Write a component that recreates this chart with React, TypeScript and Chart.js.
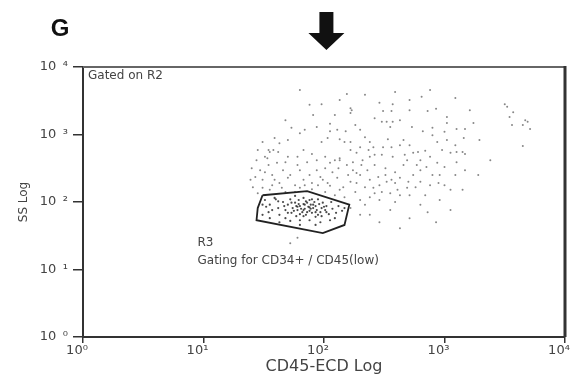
import React, { useEffect, useRef } from "react";
import { Chart, registerables } from "chart.js";

Chart.register(...registerables);

// Axis decades (values are log10 of the channel, the axis shows 10^n)
const decades = [0, 1, 2, 3, 4];
const xTickLabels = ["10⁰", "10¹", "10²", "10³", "10⁴"];
const yTickLabels = ["10\u2002⁰", "10\u2002¹", "10\u2002²", "10\u2002³", "10\u2002⁴"];

const xTitle = "CD45-ECD Log";
const yTitle = "SS Log";

// R3 gate polygon (log10 CD45, log10 SS)
const gateR3: [number, number][] = [
  [1.49, 2.1], [1.86, 2.16], [2.21, 1.96], [2.17, 1.66], [1.99, 1.54], [1.44, 1.73], [1.45, 1.91], [1.49, 2.1],
];

// events inside R3 (log10 CD45, log10 SS)
const gatedEvents: [number, number][] = [
  [1.51, 2.03], [1.55, 1.96], [1.54, 1.85], [1.59, 2.06], [1.62, 1.91], [1.63, 1.81], [1.66, 2.0], [1.68, 1.88],
  [1.7, 1.96], [1.72, 2.04], [1.73, 1.84], [1.74, 1.91], [1.76, 1.99], [1.77, 1.79], [1.78, 1.88], [1.79, 2.03],
  [1.8, 1.94], [1.82, 1.85], [1.83, 1.97], [1.83, 2.06], [1.84, 1.9], [1.85, 1.81], [1.86, 1.99], [1.87, 1.93],
  [1.88, 1.87], [1.88, 2.03], [1.89, 1.96], [1.9, 1.84], [1.91, 1.91], [1.92, 2.0], [1.93, 1.78], [1.93, 1.94],
  [1.94, 1.88], [1.95, 2.04], [1.96, 1.97], [1.97, 1.85], [1.98, 1.91], [1.98, 1.79], [1.99, 1.99], [2.01, 1.88],
  [2.02, 1.94], [2.04, 1.82], [2.06, 2.0], [2.07, 1.9], [2.1, 1.84], [2.12, 1.94], [2.15, 1.87], [2.17, 1.91],
  [1.8, 1.73], [1.72, 1.72], [1.63, 1.7], [1.55, 1.76], [1.49, 1.81], [1.6, 2.04], [1.76, 2.09], [1.68, 1.76],
  [1.88, 1.73], [1.97, 1.7], [2.05, 1.73], [1.78, 1.93], [1.81, 1.9], [1.84, 1.96], [1.88, 1.92], [1.83, 1.88],
  [1.86, 1.85], [1.89, 1.9], [1.79, 1.97], [1.91, 1.96], [1.75, 1.87], [1.7, 1.84], [1.93, 1.85], [1.85, 2.01],
  [1.8, 1.82], [1.77, 1.94], [1.73, 1.99], [1.9, 2.04], [1.95, 1.81], [2.0, 1.93], [2.02, 1.85], [1.67, 1.94],
  [1.62, 2.01], [1.57, 1.88], [1.52, 1.93], [1.83, 1.79], [1.93, 1.66], [1.8, 1.66], [2.09, 1.76], [1.49, 1.96],
];

// events outside R3 (log10 CD45, log10 SS)
const otherEvents: [number, number][] = [
  [1.8, 3.66], [2.19, 3.6], [1.88, 3.44], [1.98, 3.45], [2.22, 3.39], [2.22, 3.32], [2.05, 3.16], [1.84, 3.07],
  [2.05, 3.05], [2.18, 3.05], [2.13, 2.93], [1.98, 2.89], [2.17, 2.89], [2.03, 2.95], [1.55, 2.74], [1.62, 2.74],
  [1.83, 2.77], [1.9, 2.71], [2.13, 2.65], [1.7, 2.67], [1.78, 2.67], [1.63, 2.87], [1.7, 2.92], [1.8, 3.02],
  [1.94, 3.11], [2.11, 3.07], [2.3, 3.07], [1.58, 2.77], [1.51, 2.67],
  [2.88, 3.66], [2.81, 3.56], [2.46, 3.47], [2.57, 3.45], [2.49, 3.35], [2.56, 3.35], [2.86, 3.35], [2.93, 3.38],
  [2.23, 3.36], [2.42, 3.24], [2.48, 3.19], [2.57, 3.19], [2.52, 3.19], [3.02, 3.26], [3.02, 3.17], [2.73, 3.11],
  [2.55, 3.11], [2.82, 3.05], [2.9, 3.1], [3.0, 3.04], [3.1, 3.08], [3.17, 3.08], [2.9, 2.99], [2.53, 2.93],
  [2.66, 2.92], [2.94, 2.89], [2.22, 2.89], [2.38, 2.89], [2.41, 2.81], [2.49, 2.81], [2.56, 2.81], [2.63, 2.84],
  [2.3, 2.81], [2.78, 2.74], [2.84, 2.76], [2.98, 2.77], [3.1, 2.74], [3.17, 2.71], [2.42, 2.7], [2.48, 2.7],
  [2.74, 2.73], [2.88, 2.67],
  [3.5, 3.45], [3.52, 3.41], [3.57, 3.33], [3.54, 3.26], [3.56, 3.14], [3.65, 3.14], [3.67, 3.21], [3.69, 3.19],
  [3.71, 3.08], [3.24, 3.17], [3.16, 2.95], [3.65, 2.83], [3.15, 2.74],
  [1.44, 2.62], [1.53, 2.65], [1.61, 2.58], [1.78, 2.55], [1.86, 2.59], [1.94, 2.62], [2.01, 2.67], [2.05, 2.58],
  [2.13, 2.62], [2.19, 2.55], [2.24, 2.59], [1.43, 2.37], [1.49, 2.33], [1.57, 2.4], [1.63, 2.28], [1.7, 2.36],
  [1.76, 2.25], [1.83, 2.33], [1.9, 2.28], [1.97, 2.37], [2.03, 2.28], [2.11, 2.36], [2.16, 2.22], [2.22, 2.3],
  [1.41, 2.22], [1.47, 2.47], [1.66, 2.47], [1.94, 2.47], [2.07, 2.44], [2.27, 2.43],
  [2.27, 2.73], [2.32, 2.62], [2.38, 2.67], [2.57, 2.67], [2.69, 2.62], [2.77, 2.55], [2.85, 2.52], [2.94, 2.58],
  [3.05, 2.73], [3.1, 2.59], [3.17, 2.47], [2.24, 2.47], [2.3, 2.4], [2.36, 2.47], [2.45, 2.37], [2.52, 2.3],
  [2.56, 2.33], [2.63, 2.36], [2.7, 2.3], [2.74, 2.4], [2.8, 2.47], [2.9, 2.4], [2.95, 2.28], [2.27, 2.28],
  [2.34, 2.22], [2.41, 2.21], [2.48, 2.15], [2.55, 2.13], [2.61, 2.18], [2.69, 2.21], [2.76, 2.22], [2.38, 2.07],
  [2.3, 2.03], [2.22, 1.91], [2.84, 2.1], [2.86, 1.85], [2.71, 1.76], [3.0, 2.52],
  [1.49, 2.21], [1.55, 2.18], [1.65, 2.21], [1.76, 2.15], [1.9, 2.19], [2.01, 2.15], [2.09, 2.1], [2.17, 2.07],
  [2.13, 2.18], [2.05, 2.24], [2.34, 1.96], [2.46, 2.03], [2.59, 2.0], [2.63, 2.1], [1.54, 2.55], [1.68, 2.59],
  [1.8, 2.47], [1.88, 2.4], [2.01, 2.5], [2.12, 2.5], [2.2, 2.4], [2.31, 2.55], [2.42, 2.55], [2.51, 2.5],
  [2.59, 2.44], [2.66, 2.55], [2.46, 2.25], [2.59, 2.28], [2.38, 2.33], [1.72, 2.4], [1.84, 2.25], [1.59, 2.33],
  [1.95, 2.25], [2.51, 2.4], [2.26, 2.15], [2.42, 2.13], [2.8, 2.3], [3.0, 2.25], [3.09, 2.4], [2.8, 1.96],
  [2.96, 2.03], [3.02, 2.92], [3.09, 2.84], [2.71, 2.84], [2.34, 2.96], [2.26, 3.14], [2.63, 3.21], [2.71, 3.36],
  [1.78, 1.47], [1.72, 1.39],
  [1.45, 2.77], [1.49, 2.89], [1.59, 2.95], [1.73, 3.1], [1.68, 3.21], [1.91, 3.29], [2.09, 3.29], [2.13, 3.51],
  [2.34, 3.59], [2.59, 3.63], [2.71, 3.51], [3.09, 3.54], [3.21, 3.36], [3.29, 2.92], [3.38, 2.62], [3.28, 2.4],
  [3.15, 2.18], [3.05, 1.88], [2.93, 1.7], [2.63, 1.61], [2.46, 1.7], [2.3, 1.81], [1.51, 2.44], [1.57, 2.25],
  [1.68, 2.15], [1.8, 2.21], [1.99, 2.33], [2.09, 2.62], [2.22, 2.77], [2.37, 2.77], [2.67, 2.7], [2.8, 2.62],
  [2.96, 2.4], [3.05, 2.18], [2.88, 2.25], [2.71, 2.1], [2.55, 1.88], [2.38, 1.81], [1.54, 2.77], [1.4, 2.5],
  [1.39, 2.33], [1.45, 2.13],
];

// annotation positions in data units (log10 CD45, log10 SS)
const r3LabelPos = { x: 0.95, y: 1.4 };
const r3NotePos = { x: 0.95, y: 1.13 };
const arrowAt = 2.02;

const toPoints = (arr: [number, number][]) => arr.map(([x, y]) => ({ x, y }));

const TEXT_FONT = "'DejaVu Sans', 'Liberation Sans', Arial, sans-serif";

const decorPlugin = {
  id: "decor",
  afterDraw(chart: any) {
    const { ctx, chartArea, scales } = chart;
    const xs = scales.x;
    const ys = scales.y;
    ctx.save();
    // top and right frame
    ctx.strokeStyle = "#666";
    ctx.lineWidth = 2;
    ctx.beginPath();
    ctx.moveTo(chartArea.left, chartArea.top);
    ctx.lineTo(chartArea.right, chartArea.top);
    ctx.stroke();
    ctx.strokeStyle = "#333";
    ctx.lineWidth = 3;
    ctx.beginPath();
    ctx.moveTo(chartArea.right, chartArea.top - 1);
    ctx.lineTo(chartArea.right, chartArea.bottom);
    ctx.stroke();

    // annotations
    ctx.fillStyle = "#444";
    ctx.font = `12px ${TEXT_FONT}`;
    ctx.textBaseline = "middle";
    ctx.textAlign = "left";
    ctx.fillText("Gated on R2", xs.getPixelForValue(0) + 5, chartArea.top + 9);
    ctx.fillText("R3", xs.getPixelForValue(r3LabelPos.x), ys.getPixelForValue(r3LabelPos.y));
    ctx.fillText("Gating for CD34+ / CD45(low)", xs.getPixelForValue(r3NotePos.x), ys.getPixelForValue(r3NotePos.y));

    // panel letter
    ctx.fillStyle = "#111";
    ctx.font = `bold 24px 'Liberation Sans', Arial, sans-serif`;
    ctx.textAlign = "center";
    ctx.fillText("G", 60, 29);

    // arrow
    const cx = xs.getPixelForValue(arrowAt);
    ctx.fillStyle = "#111";
    ctx.beginPath();
    ctx.moveTo(cx - 7, 12);
    ctx.lineTo(cx + 7, 12);
    ctx.lineTo(cx + 7, 33);
    ctx.lineTo(cx + 18, 33);
    ctx.lineTo(cx, 50);
    ctx.lineTo(cx - 18, 33);
    ctx.lineTo(cx - 7, 33);
    ctx.closePath();
    ctx.fill();
    ctx.restore();
  },
};

export default function App() {
  const ref = useRef<HTMLCanvasElement | null>(null);
  useEffect(() => {
    if (!ref.current) return;
    const chart = new Chart(ref.current, {
      type: "scatter",
      data: {
        datasets: [
          {
            label: "R3",
            data: toPoints(gateR3),
            showLine: true,
            borderColor: "#222",
            borderWidth: 1.8,
            pointRadius: 0,
            fill: false,
            tension: 0,
          } as any,
          {
            label: "gated",
            data: toPoints(gatedEvents),
            pointRadius: 1.1,
            pointBorderWidth: 0,
            backgroundColor: "rgba(30,30,30,0.8)",
          },
          {
            label: "other",
            data: toPoints(otherEvents),
            pointRadius: 1.0,
            pointBorderWidth: 0,
            backgroundColor: "rgba(70,70,70,0.65)",
          },
        ],
      },
      options: {
        animation: false,
        responsive: false,
        devicePixelRatio: 1,
        layout: { padding: { left: 0, top: 67, right: 14, bottom: 0 } },
        plugins: { legend: { display: false }, tooltip: { enabled: false } },
        scales: {
          x: {
            type: "linear",
            min: 0,
            max: 4,
            afterBuildTicks: (s: any) => { s.ticks = decades.map((v) => ({ value: v })); },
            afterFit: (s: any) => { s.height = 55; },
            ticks: {
              callback: (v: any) => xTickLabels[decades.indexOf(Number(v))] ?? "",
              color: "#444",
              font: { family: TEXT_FONT, size: 13 },
              padding: 0,
              labelOffset: -6,
              maxRotation: 0,
              autoSkip: false,
            },
            grid: { drawOnChartArea: false, tickLength: 6, color: "#333", lineWidth: 1.5 },
            border: { display: true, color: "#333", width: 2 },
            title: {
              display: true,
              text: xTitle,
              color: "#444",
              font: { family: TEXT_FONT, size: 16 },
              padding: { top: 0, bottom: 16 },
            },
          },
          y: {
            type: "linear",
            min: 0,
            max: 4,
            afterBuildTicks: (s: any) => { s.ticks = decades.map((v) => ({ value: v })); },
            afterFit: (s: any) => { s.width = 83; },
            ticks: {
              callback: (v: any) => yTickLabels[decades.indexOf(Number(v))] ?? "",
              color: "#444",
              font: { family: TEXT_FONT, size: 13 },
              padding: 5,
              autoSkip: false,
            },
            grid: { drawOnChartArea: false, tickLength: 10, color: "#333", lineWidth: 1.5 },
            border: { display: true, color: "#333", width: 2 },
            title: {
              display: true,
              text: yTitle,
              color: "#444",
              font: { family: TEXT_FONT, size: 12 },
              padding: { top: 17, bottom: 0 },
            },
          },
        },
      },
      plugins: [decorPlugin],
    });
    return () => chart.destroy();
  }, []);

  return (
    <div style={{ position: "absolute", left: 0, top: 0, width: 579, height: 392, background: "#fff" }}>
      <canvas ref={ref} width={579} height={392} style={{ display: "block" }} />
    </div>
  );
}
